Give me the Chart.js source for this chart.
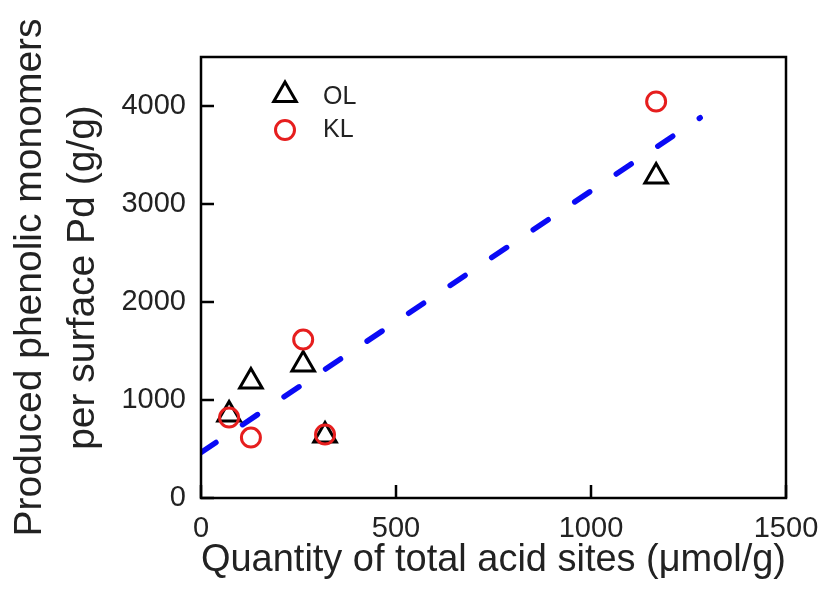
<!DOCTYPE html>
<html>
<head>
<meta charset="utf-8">
<script src="https://cdn.jsdelivr.net/npm/chart.js@4.4.0/dist/chart.umd.min.js"></script>
<style>
  body { margin: 0; background: #fff; }
</style>
</head>
<body>
<canvas id="chart" width="824" height="593"></canvas>
<script>
// values
const olX = [72, 128, 262, 318, 1167];
const olY = [852, 1189, 1362, 638, 3281];
const klX = [72, 128, 262, 318, 1167];
const klY = [821, 617, 1617, 648, 4046];
const fitX = [0, 1280];
const fitY = [464, 3880];
const xTicks = [0, 500, 1000, 1500];
const yTicks = [0, 1000, 2000, 3000, 4000];

const FONT = "'Liberation Sans', Arial, sans-serif";
const RED = '#e61e1e';
const BLUE = '#0a0af5';

function pts(xs, ys) {
  return xs.map((x, i) => ({ x: x, y: ys[i] }));
}

// frame, inward ticks and the little legend box
const decorations = {
  id: 'decorations',
  afterDatasetsDraw(chart) {
    const ctx = chart.ctx;
    const a = chart.chartArea;
    const xs = chart.scales.x;
    const ys = chart.scales.y;
    ctx.save();
    ctx.strokeStyle = '#000';
    ctx.lineWidth = 2.5;
    ctx.strokeRect(a.left, a.top, a.right - a.left, a.bottom - a.top);

    const tl = 13;
    ctx.beginPath();
    xTicks.forEach((v) => {
      const px = xs.getPixelForValue(v);
      ctx.moveTo(px, a.bottom);
      ctx.lineTo(px, a.bottom - tl);
    });
    yTicks.forEach((v) => {
      const py = ys.getPixelForValue(v);
      ctx.moveTo(a.left, py);
      ctx.lineTo(a.left + tl, py);
    });
    ctx.stroke();

    // legend
    const lx = a.left + 84;
    const ly1 = a.top + 38;
    const ly2 = a.top + 73;
    const r = 13;
    ctx.lineWidth = 3;
    ctx.strokeStyle = '#000';
    ctx.beginPath();
    let rad = 0;
    ctx.moveTo(lx + Math.sin(rad) * r, ly1 - Math.cos(rad) * r);
    rad += Math.PI * 2 / 3;
    ctx.lineTo(lx + Math.sin(rad) * r, ly1 - Math.cos(rad) * r);
    rad += Math.PI * 2 / 3;
    ctx.lineTo(lx + Math.sin(rad) * r, ly1 - Math.cos(rad) * r);
    ctx.closePath();
    ctx.stroke();

    ctx.strokeStyle = RED;
    ctx.beginPath();
    ctx.arc(lx, ly2, 9.5, 0, Math.PI * 2);
    ctx.stroke();

    ctx.fillStyle = '#222';
    ctx.font = '25px ' + FONT;
    ctx.textBaseline = 'middle';
    ctx.fillText('OL', lx + 38, ly1 + 2);
    ctx.fillText('KL', lx + 38, ly2);
    ctx.restore();
  }
};

const ctx = document.getElementById('chart').getContext('2d');
const myChart = new Chart(ctx, {
  type: 'scatter',
  data: {
    datasets: [
      {
        type: 'line',
        label: 'fit',
        data: pts(fitX, fitY),
        borderColor: BLUE,
        borderWidth: 5.5,
        borderDash: [18, 32],
        borderCapStyle: 'round',
        pointRadius: 0,
        fill: false,
        order: 3,
      },
      {
        label: 'OL',
        data: pts(olX, olY),
        pointStyle: 'triangle',
        pointRadius: 13,
        pointBorderWidth: 3,
        pointBorderColor: '#000',
        pointBackgroundColor: 'rgba(0,0,0,0)',
        order: 2,
      },
      {
        label: 'KL',
        data: pts(klX, klY),
        pointStyle: 'circle',
        pointRadius: 9.5,
        pointBorderWidth: 3,
        pointBorderColor: RED,
        pointBackgroundColor: 'rgba(0,0,0,0)',
        order: 1,
      },
    ],
  },
  options: {
    responsive: false,
    animation: false,
    layout: { padding: { top: 57, right: 38, left: 0, bottom: 0 } },
    plugins: {
      legend: { display: false },
      tooltip: { enabled: false },
    },
    scales: {
      x: {
        type: 'linear',
        min: 0,
        max: 1500,
        afterBuildTicks: (s) => { s.ticks = xTicks.map((v) => ({ value: v })); },
        afterFit: (s) => { s.height = 95; s.paddingLeft = 0; s.paddingRight = 0; },
        grid: { display: false, drawTicks: false },
        border: { display: false },
        ticks: {
          padding: 14,
          color: '#222',
          font: { family: FONT, size: 29 },
          maxRotation: 0,
          callback: (value) => String(value),
        },
        title: {
          display: true,
          text: 'Quantity of total acid sites (\u03bcmol/g)',
          color: '#222',
          font: { family: FONT, size: 39.5 },
          padding: { top: 0, bottom: 9 },
        },
      },
      y: {
        type: 'linear',
        min: 0,
        max: 4500,
        afterBuildTicks: (s) => { s.ticks = yTicks.map((v) => ({ value: v })); },
        afterFit: (s) => { s.width = 201; s.paddingTop = 0; s.paddingBottom = 0; },
        grid: { display: false, drawTicks: false },
        border: { display: false },
        ticks: {
          padding: 15,
          color: '#222',
          font: { family: FONT, size: 29 },
          callback: (value) => String(value),
        },
        title: {
          display: true,
          text: ['Produced phenolic monomers', 'per surface Pd (g/g)'],
          color: '#222',
          font: { family: FONT, size: 39, lineHeight: 1.38 },
          padding: { top: 3, bottom: 0 },
        },
      },
    },
  },
  plugins: [decorations],
});
</script>
</body>
</html>
